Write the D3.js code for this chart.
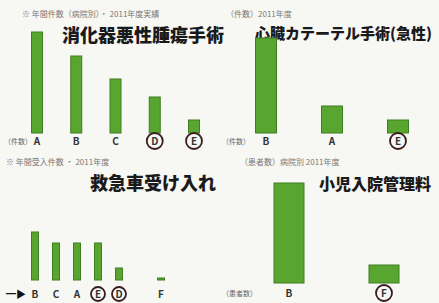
<!DOCTYPE html>
<html>
<head>
<meta charset="utf-8">
<script src="https://cdn.jsdelivr.net/npm/d3@7"></script>
<style>
  body { margin: 0; background: #f7f7f4; }
  svg { display: block; }
  text { font-family: "Noto Sans CJK JP", "Noto Sans", sans-serif; }
</style>
</head>
<body>
<svg id="chart" width="439" height="303"></svg>
<script>
// panel titles
const titles = ["消化器悪性腫瘍手術", "心臓カテーテル手術(急性)", "救急車受け入れ", "小児入院管理料"];

// categories (hospitals) per panel
const cats1 = ["A", "B", "C", "D", "E"];
const cats2 = ["B", "A", "E"];
const cats3 = ["B", "C", "A", "E", "D", "", "F"];
const cats4 = ["B", "F"];

// values
const vals1 = [101, 77, 54, 36, 13];
const vals2 = [95, 27, 13];
const vals3 = [48, 37, 37, 37, 12, 0, 2];
const vals4 = [100, 18];

// circled (highlighted) categories
const circled1 = ["D", "E"];
const circled2 = ["E"];
const circled3 = ["E", "D"];
const circled4 = ["F"];

// faint header / axis notes
const headers = ["※ 年間件数（病院別）・ 2011年度実績", "（件数）2011年度", "※ 年間受入件数 ・ 2011年度", "（患者数）病院別 2011年度"];
const axisNotes = ["（件数）", "（件数）", "", "（患者数）"];

const svg = d3.select("#chart");

const panels = [
    {title: titles[0], cats: cats1, vals: vals1, circ: circled1,
     x0: 37, x1: 194, base: 133, top: 32, bw: 11, tx: 143, ty: 42, tsize: 18, nx: 22, ny: 17, lx: 4, labY: 145, r: 8},
    {title: titles[1], cats: cats2, vals: vals2, circ: circled2,
     x0: 266, x1: 398, base: 133, top: 38, bw: 21, tx: 255, ty: 39, tsize: 15, nx: 226, ny: 17, lx: 222, labY: 145, r: 8, left: true},
    {title: titles[2], cats: cats3, vals: vals3, circ: circled3,
     x0: 35, x1: 161, base: 280, top: 232, bw: 7, tx: 153, ty: 190, tsize: 18, nx: 6, ny: 165, lx: 4, labY: 298, r: 7},
    {title: titles[3], cats: cats4, vals: vals4, circ: circled4,
     x0: 289, x1: 384, base: 283, top: 183, bw: 30, tx: 375, ty: 190, tsize: 16, nx: 240, ny: 165, lx: 222, labY: 297, r: 8}
];

panels.forEach((p, pi) => {
    const g = svg.append("g");

    const x = d3.scalePoint()
        .domain(d3.range(p.cats.length))
        .range([p.x0, p.x1]);

    const y = d3.scaleLinear()
        .domain([0, d3.max(p.vals)])
        .range([p.base, p.top]);

    // header note
    g.append("text")
        .attr("x", p.nx)
        .attr("y", p.ny)
        .style("font-size", "8px")
        .style("fill", "#777")
        .text(headers[pi]);

    // title
    g.append("text")
        .attr("x", p.tx)
        .attr("y", p.ty)
        .attr("text-anchor", p.left ? "start" : "middle")
        .style("font-size", p.tsize + "px")
        .style("font-weight", "900")
        .style("fill", "#1a1a1a")
        .text(p.title);

    // bars
    g.selectAll("rect.bar")
        .data(p.vals)
        .join("rect")
        .attr("class", "bar")
        .attr("x", (d, i) => x(i) - p.bw / 2)
        .attr("y", d => y(d))
        .attr("width", p.bw)
        .attr("height", d => p.base - y(d))
        .style("fill", "#58a62f")
        .style("stroke", "#3f7f22")
        .style("stroke-width", 1);

    // category labels
    g.selectAll("text.lab")
        .data(p.cats)
        .join("text")
        .attr("class", "lab")
        .attr("x", (d, i) => x(i))
        .attr("y", p.labY)
        .attr("text-anchor", "middle")
        .style("font-size", "10px")
        .style("font-weight", "bold")
        .style("fill", "#333")
        .text(d => d);

    // circles round highlighted labels
    g.selectAll("circle.hl")
        .data(p.cats.map((c, i) => i).filter(i => p.circ.includes(p.cats[i])))
        .join("circle")
        .attr("class", "hl")
        .attr("cx", i => x(i))
        .attr("cy", p.labY - 4)
        .attr("r", p.r)
        .style("fill", "none")
        .style("stroke", "#3a1c20")
        .style("stroke-width", 1.8);

    // small axis note at bottom left
    g.append("text")
        .attr("x", p.lx)
        .attr("y", p.labY - 1)
        .style("font-size", "7px")
        .style("fill", "#666")
        .text(axisNotes[pi]);
});

// dark arrow marker under the third panel
svg.append("text")
    .attr("x", 6)
    .attr("y", 298)
    .style("font-size", "10px")
    .style("font-weight", "bold")
    .style("fill", "#111")
    .text("━▶");
</script>
</body>
</html>
